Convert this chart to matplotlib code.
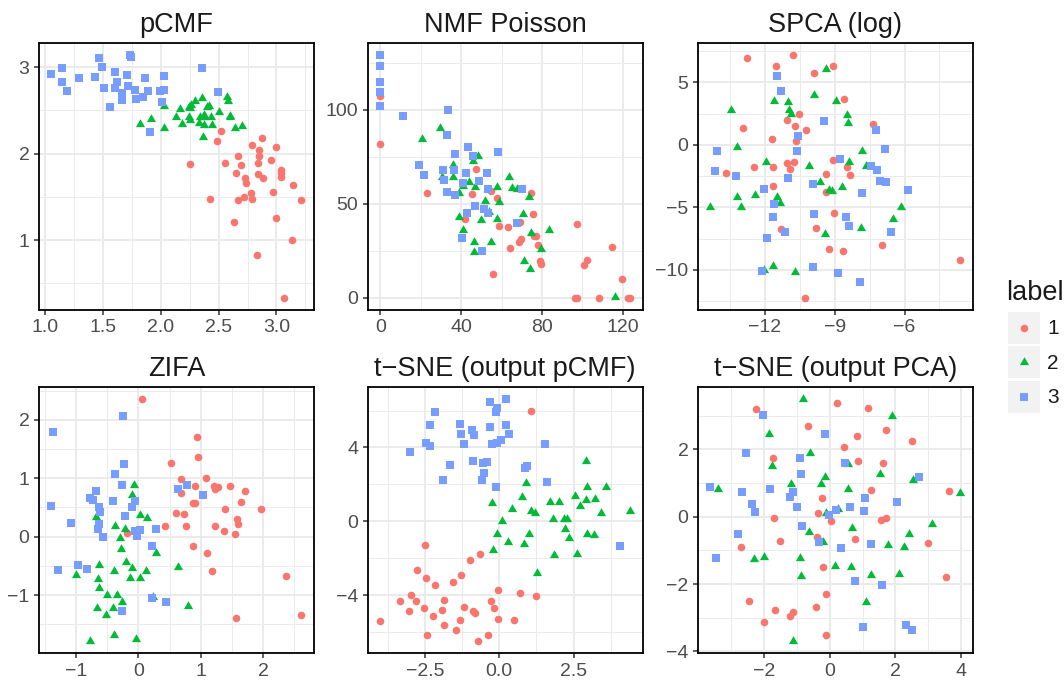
import matplotlib
matplotlib.use("Agg")
import matplotlib.pyplot as plt
from matplotlib.path import Path
from matplotlib.patches import Rectangle
from matplotlib.ticker import FixedLocator, FixedFormatter

plt.rcParams['font.family'] = ['Liberation Sans', 'DejaVu Sans']

# ---------------- data ----------------
label_names = ['1', '2', '3']
label_colors = ['#F8766D', '#00BA38', '#779DFF']

# pCMF
pcmf_x1 = [2.25, 2.422, 2.486, 2.520, 2.552, 2.629, 2.647, 2.667, 2.670, 2.693, 2.718, 2.724, 2.739, 2.779, 2.790, 2.793, 2.833,
           2.839, 2.842, 2.848, 2.851, 2.876, 2.888, 2.951, 2.968, 3.0, 3.0, 3.040, 3.040, 3.043, 3.135, 3.141, 3.066, 3.216]
pcmf_y1 = [1.880, 1.471, 2.151, 2.263, 1.888, 1.208, 1.772, 1.973, 1.459, 1.865, 1.502, 1.722, 1.660, 1.541, 2.097, 1.475, 0.822,
           1.888, 1.761, 1.973, 2.042, 2.178, 1.722, 1.927, 1.560, 2.077, 1.259, 1.807, 1.772, 1.734, 1.0, 1.637, 0.332, 1.463]
pcmf_x2 = [1.825, 1.917, 2.032, 2.026, 2.129, 2.170, 2.184, 2.241, 2.250, 2.261, 2.299, 2.256, 2.356, 2.342, 2.371, 2.362,
           2.399, 2.414, 2.434, 2.443, 2.500, 2.572, 2.580, 2.595, 2.601, 2.638, 2.701, 2.328, 2.376, 2.371, 2.241]
pcmf_y2 = [2.344, 2.402, 2.293, 2.552, 2.429, 2.521, 2.340, 2.421, 2.525, 2.564, 2.614, 2.390, 2.649, 2.429, 2.421, 2.197,
           2.537, 2.552, 2.429, 2.332, 2.479, 2.660, 2.610, 2.440, 2.421, 2.301, 2.324, 2.351, 2.332, 2.448, 2.537]
pcmf_x3 = [1.055, 1.149, 1.149, 1.195, 1.299, 1.437, 1.471, 1.494, 1.514, 1.609, 1.624, 1.603, 1.667, 1.670, 1.566, 1.713,
           1.718, 1.739, 1.747, 1.782, 1.790, 1.845, 1.868, 1.894, 1.997, 2.026, 2.011, 2.032, 1.905, 2.356, 2.494]
pcmf_y3 = [2.919, 2.996, 2.834, 2.726, 2.873, 2.892, 3.112, 3.008, 2.764, 2.950, 2.826, 2.757, 2.707, 2.622, 2.544, 2.911,
           2.784, 3.143, 3.116, 2.737, 2.629, 2.653, 2.873, 2.726, 2.730, 2.737, 2.595, 2.900, 2.255, 2.996, 2.718]

# NMF Poisson
nmf_x1 = [0, 0, 23.3, 47.2, 45.5, 42.1, 54.9, 57.5, 58.7, 63.0, 64.4, 55.6, 69.2, 69.5, 68.6, 74.8, 75.3, 76.1, 76.9, 78.1,
          78.9, 79.7, 97.3, 96.5, 97.2, 108.2, 100.8, 102.4, 114.6, 119.4, 122.6, 123.6]
nmf_y1 = [107.5, 82.1, 55.8, 68.7, 55.1, 41.7, 56.7, 53.3, 38.0, 37.7, 26.3, 12.6, 40.1, 31.1, 29.8, 55.6, 44.8, 32.7, 32.9,
          28.2, 19.7, 17.9, 39.4, 0, 0, 0, 17.4, 20.1, 27.0, 9.8, 0, 0]
nmf_x2 = [29.6, 20.9, 30.7, 35.8, 35.8, 38.8, 40.8, 44.1, 46.9, 48.5, 46.0, 51.8, 50.0, 53.8, 57.5, 58.5, 57.5, 63.5, 65.3,
          67.7, 73.6, 70.7, 38.8, 41.1, 46.4, 46.4, 54.6, 71.3, 74.0, 74.5, 79.7, 83.7, 115.9]
nmf_y2 = [90.2, 84.4, 64.5, 70.7, 64.5, 55.6, 59.7, 61.5, 59.1, 75.7, 72.8, 51.7, 41.4, 45.5, 58.8, 51.2, 41.7, 64.1, 58.3,
          57.9, 53.5, 44.6, 42.8, 36.1, 29.7, 24.5, 29.7, 19.7, 15.6, 34.3, 25.8, 36.1, 0.5]
nmf_x3 = [0, 0, 0, 0, 0, 11.3, 33.4, 32.9, 19.1, 21.5, 36.8, 43.2, 46.0, 31.1, 31.6, 36.3, 33.0, 36.8, 41.1, 42.2, 48.8,
          52.6, 53.1, 46.9, 42.9, 51.5, 53.4, 58.2, 69.9, 67.4, 40.3, 50.3]
nmf_y3 = [129.3, 123.6, 114.7, 109.4, 102.1, 97.0, 100.0, 86.7, 70.7, 65.4, 76.7, 80.5, 75.5, 68.0, 62.5, 68.0, 56.3, 54.9,
          61.3, 66.6, 62.3, 66.6, 58.1, 49.0, 45.3, 47.1, 44.9, 77.8, 57.9, 39.6, 32.0, 25.0]

# SPCA (log)
spca_x1 = [-12.77, -11.53, -10.80, -9.88, -9.08, -8.58, -12.95, -11.67, -11.03, -10.70, -10.53, -10.22, -10.67, -13.65,
           -12.48, -11.63, -11.03, -10.92, -10.76, -11.63, -9.35, -9.09, -8.49, -8.35, -9.38, -9.04, -11.32, -9.82, -9.25,
           -8.62, -7.37, -6.96, -10.25, -3.61]
spca_y1 = [6.90, 6.29, 7.19, 5.70, 6.29, 3.65, 1.36, 0.48, 1.97, 1.49, 2.50, 1.17, 0.29, -2.24, -1.81, -1.81, -1.49, -1.97,
           -1.41, -3.28, -2.34, -1.23, -1.76, -2.42, -3.76, -5.41, -6.71, -6.66, -8.29, -8.47, 1.63, -7.99, -12.23, -9.19]
spca_x2 = [-14.34, -13.45, -13.21, -13.21, -13.03, -12.41, -11.93, -11.60, -11.49, -11.34, -10.99, -10.96, -10.89, -10.70,
           -10.09, -9.89, -9.61, -9.38, -9.25, -9.11, -8.95, -8.69, -8.47, -8.41, -8.37, -7.81, -7.65, -7.88, -9.42, -12.03,
           -11.63, -6.51, -6.14]
spca_y2 = [-4.96, 2.77, -0.16, -4.16, -4.96, -4.02, -1.36, 3.49, -4.16, -4.64, 3.44, 2.77, 2.50, -10.15, -1.68, 3.97, -2.96,
           6.02, -3.62, -3.70, 3.52, -3.41, 2.42, 1.71, -1.41, -0.48, -1.68, -6.61, -7.09, -10.02, -9.67, -5.92, -4.96]
spca_x3 = [-11.46, -11.32, -9.45, -10.59, -14.05, -10.63, -14.14, -13.24, -11.02, -12.04, -11.60, -11.66, -9.92, -9.88,
           -8.76, -7.43, -7.18, -7.07, -6.81, -7.81, -7.21, -6.83, -5.86, -8.52, -8.39, -11.13, -11.89, -6.57, -9.91, -8.84,
           -7.91, -12.10]
spca_y3 = [5.49, 4.32, 1.92, 0.72, -0.48, -0.51, -2.08, -2.48, -2.64, -3.52, -4.72, -5.76, -3.12, -5.52, -1.12, -1.68, -2.00,
           -2.90, -2.98, -3.84, 1.15, -0.32, -3.60, -5.78, -6.47, -6.95, -7.43, -6.93, -9.75, -10.23, -10.95, -10.07]

# ZIFA
zifa_x1 = [0.064, 0.934, 0.956, 0.518, 0.683, 1.078, 0.913, 0.678, 0.603, 0.726, 0.876, 0.902, 0.763, 0.422, 1.207, 1.223,
           1.271, 1.233, 1.388, 1.468, 1.644, 1.709, 1.367, 1.548, 1.586, 1.602, 1.970, 0.876, 1.105, 1.180, 2.360, 1.564,
           2.616, -0.176]
zifa_y1 = [2.36, 1.709, 1.366, 1.263, 0.983, 1.006, 0.874, 0.743, 0.406, 0.383, 0.583, 0.583, 0.189, 0.183, 0.874, 0.811,
           0.857, 0.189, 0.469, 0.874, 0.594, 0.783, 0.097, 0.051, 0.303, 0.223, 0.48, -0.154, -0.28, -0.589, -0.674, -1.389,
           -1.343, 0.069]
zifa_x2 = [-0.064, -0.101, -0.673, -0.368, -0.208, -0.299, 0.021, 0.139, -0.272, -0.192, 0.283, -0.635, -0.395, -0.101,
           0.123, 0.630, -0.646, -0.139, 0.021, -1.004, -0.635, -0.502, -0.342, -0.262, 0.230, -0.662, -0.411, -0.523, 0.801,
           -0.384, -0.769, -0.032]
zifa_y2 = [0.886, 0.714, 0.331, 0.183, 0.126, -0.029, 0.371, 0.314, -0.211, -0.44, -0.286, -0.486, -0.583, -0.531, -0.583,
           -0.514, -0.731, -0.714, -0.714, -0.657, -0.886, -1.0, -1.0, -1.114, -1.029, -1.229, -1.217, -1.343, -1.183, -1.691,
           -1.789, -1.76]
zifa_x3 = [-1.367, -0.251, -0.224, -0.368, -0.256, -0.673, -0.780, -0.726, -0.400, -0.625, -0.609, -1.399, -1.079, -0.630,
           -0.646, -0.561, -0.208, -0.101, -0.059, -0.048, 0.032, -0.021, 0.288, 0.224, 0.635, 0.785, 1.036, -0.977, -1.297,
           -0.817, 0.224, 0.443, -0.256]
zifa_y3 = [1.8, 2.069, 1.246, 1.074, 0.886, 0.783, 0.669, 0.629, 0.611, 0.503, 0.429, 0.531, 0.24, 0.217, 0.126, 0.0, 0.36,
           0.514, 0.617, 0.103, 0.114, 0.011, 0.131, -0.16, 0.817, 0.886, 0.714, -0.486, -0.566, -0.549, -1.051, -1.114,
           -1.269]

# t-SNE (output pCMF)
tsne_pcmf_x1 = [1.063, -2.494, -0.973, -0.649, -2.763, -2.461, -2.159, -1.275, -1.555, -2.953, -3.333, -2.796, -1.846,
                -3.043, -2.539, -1.913, -1.197, -0.895, -0.817, -0.280, -0.168, -0.056, -0.056, 0.716, 1.253, 0.492, -4.004,
                -2.215, -1.846, -1.465, -1.320, -2.416, -0.391, -0.727]
tsne_pcmf_y1 = [5.973, -1.309, -2.099, -1.776, -2.655, -3.067, -3.462, -2.924, -3.300, -4.0, -4.305, -4.305, -4.251, -4.879,
                -4.717, -4.789, -4.664, -4.843, -4.969, -4.341, -4.717, -5.291, -3.713, -3.892, -4.072, -5.363, -5.399,
                -5.112, -5.614, -5.865, -5.327, -6.135, -6.152, -6.493]
tsne_pcmf_x2 = [-0.257, 0.078, -0.089, -0.224, 0.280, 0.414, 0.783, 0.828, 0.917, 0.996, 1.074, 1.197, 1.264, 1.700, 1.812,
                1.834, 2.013, 2.181, 2.282, 2.204, 2.338, 2.539, 2.729, 2.629, 2.931, 2.953, 2.931, 2.953, 3.177, 3.210,
                3.434, 3.602, 4.407]
tsne_pcmf_y2 = [0.987, 0.0, -0.682, -1.561, -1.130, 0.664, 1.291, -1.220, 2.099, -0.664, 0.574, 0.448, -2.780, 1.040, 0.143,
                -1.830, 1.040, 0.143, 0.143, -0.413, -0.897, 1.381, 0.807, -1.794, 3.283, 1.848, 1.130, -0.700, -0.753,
                1.220, 0.448, 1.848, 0.538]
tsne_pcmf_x3 = [-2.159, -2.327, -2.998, -2.461, -2.327, -1.320, -1.286, -1.186, -0.906, -0.850, -1.655, -1.879, -0.895,
                -0.537, -0.425, -0.515, -0.570, -0.313, -0.089, -0.112, 0.224, -0.313, 0.224, 0.324, -0.257, -0.089, 0.056,
                -0.112, 0.861, 0.940, 1.532, 1.622, 4.049]
tsne_pcmf_y3 = [5.919, 5.202, 3.767, 4.251, 4.090, 5.256, 4.717, 4.179, 4.933, 4.664, 3.049, 2.242, 3.283, 3.175, 3.229,
                2.601, 2.242, 6.457, 6.152, 5.919, 6.637, 5.112, 5.202, 4.717, 4.179, 4.251, 4.395, 1.848, 2.870, 2.996,
                4.179, 2.152, -1.345]

# t-SNE (output PCA)
tsne_pca_x1 = [-2.237, 0.233, 1.164, -0.658, 1.721, 0.830, 2.510, 0.425, -1.731, 0.860, 1.619, 1.245, -0.243, -0.344,
               -1.690, 0.051, 1.569, 1.721, 3.644, -0.385, 0.779, -1.508, -2.713, 2.986, -0.202, 3.543, -0.111, -0.405,
               -2.459, -1.680, -1.123, -1.225, -2.004, -0.111]
tsne_pca_y1 = [3.192, 3.379, 3.212, 2.680, 2.562, 2.384, 2.256, 2.079, 1.734, 1.655, 1.596, 0.788, 0.542, 0.118, -0.049,
               -0.118, -0.089, -0.049, 0.759, -0.591, -0.650, -0.719, -0.906, -0.778, -1.507, -1.793, -2.305, -2.680,
               -2.512, -2.759, -2.818, -2.956, -3.133, -3.507]
tsne_pca_x2 = [-0.810, 1.893, -1.842, -0.587, -1.771, 0.547, 1.518, -0.132, -0.253, -1.194, -3.421, 0.567, 2.530, 3.978,
               -0.101, 0.253, -0.628, 0.688, -0.202, 3.117, 2.429, 1.771, 2.257, -2.298, -1.994, -0.891, -0.870, 0.152,
               0.658, 1.245, 2.126, 1.093, -1.113]
tsne_pca_y2 = [3.498, 2.995, 2.463, 1.901, 1.498, 1.576, 1.261, 1.163, 0.956, 0.966, 0.818, 0.808, 1.084, 0.690, 0.099,
               0.227, -0.443, -0.345, -0.739, -0.227, -0.522, -0.828, -0.887, -1.261, -1.182, -1.232, -1.773, -1.458,
               -1.507, -1.724, -1.704, -2.542, -3.695]
tsne_pca_x3 = [-2.034, -0.132, -2.551, -0.911, 0.476, -0.881, 2.713, -3.644, -2.682, -1.822, -1.123, -1.225, 1.073, -2.368,
               -2.277, -1.012, 0.628, 1.032, 0.182, -0.020, 2.055, -2.804, -0.830, -0.334, 0.354, 1.265, -3.462, 0.759,
               1.579, 1.002, 2.328, 2.510]
tsne_pca_y3 = [3.005, 2.443, 1.892, 1.744, 1.606, 1.261, 1.182, 0.887, 0.739, 0.818, 0.739, 0.591, 0.562, 0.374, 0.148,
               0.276, 0.276, 0.177, 0.197, 0.049, 0.443, -0.502, -0.266, -0.759, -0.916, -0.798, -1.212, -1.921, -2.020,
               -3.281, -3.222, -3.350]

titles = ['pCMF', 'NMF Poisson', 'SPCA (log)', 'ZIFA', 't\u2212SNE (output pCMF)', 't\u2212SNE (output PCA)']

# tick values and labels
pcmf_xticks = [1.0, 1.5, 2.0, 2.5, 3.0]
pcmf_xlabels = ['1.0', '1.5', '2.0', '2.5', '3.0']
pcmf_yticks = [1, 2, 3]
pcmf_ylabels = ['1', '2', '3']
nmf_xticks = [0, 40, 80, 120]
nmf_xlabels = ['0', '40', '80', '120']
nmf_yticks = [0, 50, 100]
nmf_ylabels = ['0', '50', '100']
spca_xticks = [-12, -9, -6]
spca_xlabels = ['\u221212', '\u22129', '\u22126']
spca_yticks = [-10, -5, 0, 5]
spca_ylabels = ['\u221210', '\u22125', '0', '5']
zifa_xticks = [-1, 0, 1, 2]
zifa_xlabels = ['\u22121', '0', '1', '2']
zifa_yticks = [-2, -1, 0, 1, 2]
zifa_ylabels = ['\u22122', '\u22121', '0', '1', '2']
tsne_pcmf_xticks = [-2.5, 0.0, 2.5]
tsne_pcmf_xlabels = ['\u22122.5', '0.0', '2.5']
tsne_pcmf_yticks = [-4, 0, 4]
tsne_pcmf_ylabels = ['\u22124', '0', '4']
tsne_pca_xticks = [-2, 0, 2, 4]
tsne_pca_xlabels = ['\u22122', '0', '2', '4']
tsne_pca_yticks = [-4, -2, 0, 2]
tsne_pca_ylabels = ['\u22124', '\u22122', '0', '2']

panels = [
    dict(data=[(pcmf_x1, pcmf_y1), (pcmf_x2, pcmf_y2), (pcmf_x3, pcmf_y3)],
         xt=pcmf_xticks, xl=pcmf_xlabels, yt=pcmf_yticks, yl=pcmf_ylabels),
    dict(data=[(nmf_x1, nmf_y1), (nmf_x2, nmf_y2), (nmf_x3, nmf_y3)],
         xt=nmf_xticks, xl=nmf_xlabels, yt=nmf_yticks, yl=nmf_ylabels),
    dict(data=[(spca_x1, spca_y1), (spca_x2, spca_y2), (spca_x3, spca_y3)],
         xt=spca_xticks, xl=spca_xlabels, yt=spca_yticks, yl=spca_ylabels),
    dict(data=[(zifa_x1, zifa_y1), (zifa_x2, zifa_y2), (zifa_x3, zifa_y3)],
         xt=zifa_xticks, xl=zifa_xlabels, yt=zifa_yticks, yl=zifa_ylabels),
    dict(data=[(tsne_pcmf_x1, tsne_pcmf_y1), (tsne_pcmf_x2, tsne_pcmf_y2), (tsne_pcmf_x3, tsne_pcmf_y3)],
         xt=tsne_pcmf_xticks, xl=tsne_pcmf_xlabels, yt=tsne_pcmf_yticks, yl=tsne_pcmf_ylabels),
    dict(data=[(tsne_pca_x1, tsne_pca_y1), (tsne_pca_x2, tsne_pca_y2), (tsne_pca_x3, tsne_pca_y3)],
         xt=tsne_pca_xticks, xl=tsne_pca_xlabels, yt=tsne_pca_yticks, yl=tsne_pca_ylabels),
]

# ---------------- layout / style ----------------
W, H = 1064, 681
fig = plt.figure(figsize=(W / 100, H / 100), dpi=100)
fig.patch.set_facecolor('white')

boxes = [(38.7, 42.7, 314.0, 310.0), (367.7, 42.7, 642.7, 310.0), (697.7, 42.7, 972.7, 310.0),
         (38.7, 386.7, 314.0, 653.3), (367.7, 386.7, 642.7, 653.3), (697.7, 386.7, 972.7, 653.3)]


def expand(vals, frac=0.05):
    lo, hi = min(vals), max(vals)
    d = (hi - lo) * frac
    return lo - d, hi + d


def minor_between(ticks, lo, hi):
    step = ticks[1] - ticks[0]
    out = []
    t = ticks[0] - step / 2
    while t > lo:
        t -= step
    t += step
    while t < hi:
        out.append(t)
        t += step
    return out


tri_path = Path([(0, 1), (-0.866, -0.5), (0.866, -0.5), (0, 1)],
                [Path.MOVETO, Path.LINETO, Path.LINETO, Path.CLOSEPOLY])
markers = ['o', tri_path, 's']
sizes = [30, 58, 32]

for (x0, y0, x1, y1), p, title in zip(boxes, panels, titles):
    ax = fig.add_axes([x0 / W, 1 - y1 / H, (x1 - x0) / W, (y1 - y0) / H])
    allx = [v for d in p['data'] for v in d[0]]
    ally = [v for d in p['data'] for v in d[1]]
    xlo, xhi = expand(allx)
    ylo, yhi = expand(ally)
    ax.set_xlim(xlo, xhi)
    ax.set_ylim(ylo, yhi)
    for (xs, ys), c, m, s in zip(p['data'], label_colors, markers, sizes):
        ax.scatter(xs, ys, s=s, c=c, marker=m, linewidths=0, zorder=3)
    ax.xaxis.set_major_locator(FixedLocator(p['xt']))
    ax.xaxis.set_major_formatter(FixedFormatter(p['xl']))
    ax.yaxis.set_major_locator(FixedLocator(p['yt']))
    ax.yaxis.set_major_formatter(FixedFormatter(p['yl']))
    ax.xaxis.set_minor_locator(FixedLocator(minor_between(p['xt'], xlo, xhi)))
    ax.yaxis.set_minor_locator(FixedLocator(minor_between(p['yt'], ylo, yhi)))
    ax.set_axisbelow(True)
    ax.grid(which='major', color='#EBEBEB', linewidth=1.4)
    ax.grid(which='minor', color='#EBEBEB', linewidth=0.7)
    ax.tick_params(which='major', length=3.5, width=1.1, color='#333333', labelcolor='#4D4D4D',
                   labelsize=14, pad=3.2)
    ax.tick_params(which='minor', length=0)
    for sp in ax.spines.values():
        sp.set_color('black')
        sp.set_linewidth(1.3)
    ax.set_title(title, fontsize=19.5, color='#1A1A1A', pad=7.5)

# ---------------- legend ----------------
lax = fig.add_axes([0, 0, 1, 1], facecolor='none')
lax.set_xlim(0, W)
lax.set_ylim(H, 0)
lax.axis('off')
lax.text(1006, 293, 'label', fontsize=19.5, color='#1A1A1A', va='center', ha='left')
key_tops = [311.7, 346.2, 380.7]
for top, c, m, s, name in zip(key_tops, label_colors, markers, sizes, label_names):
    lax.add_patch(Rectangle((1007.7, top), 32.3, 32.0, facecolor='#F2F2F2', edgecolor='none'))
    lax.scatter([1024], [top + 16], s=s, c=c, marker=m, linewidths=0)
    lax.text(1047, top + 17, name, fontsize=15, color='#1A1A1A', va='center', ha='left')

fig.savefig('out.png', dpi=100)
